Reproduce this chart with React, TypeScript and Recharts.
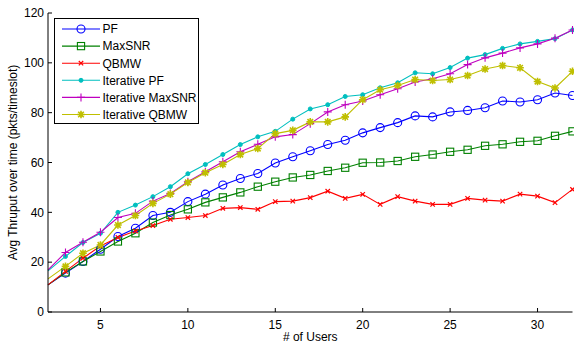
import React from 'react'
import { LineChart, Line, XAxis, YAxis, Legend } from 'recharts'

const users = [2, 3, 4, 5, 6, 7, 8, 9, 10, 11, 12, 13, 14, 15, 16, 17, 18, 19, 20, 21, 22, 23, 24, 25, 26, 27, 28, 29, 30, 31, 32]

const pf = [10.9, 15.6, 20.3, 25.2, 30.3, 33.6, 38.7, 40, 44.3, 47.3, 51, 53.6, 55.6, 59.8, 62.3, 64.7, 67.2, 68.9, 71.9, 74, 76, 78.7, 78.3, 80.3, 80.9, 82, 84.7, 84.3, 85.2, 87.9, 86.9]
const maxSnr = [10.9, 15.9, 20.3, 24.3, 28.3, 31.6, 35.9, 38.9, 41.2, 44, 46, 48, 50.3, 52.3, 54, 55, 56.6, 57.9, 59.9, 60, 60.6, 62.3, 63.2, 64.3, 65.1, 66.7, 67.3, 68.3, 68.7, 70.7, 72.5]
const qbmw = [10.9, 16.3, 21.6, 26.5, 29.9, 32.5, 34.7, 37.2, 37.9, 38.7, 41.6, 41.9, 41.2, 44.3, 44.5, 45.9, 48.5, 45.6, 47.2, 43.2, 46.3, 44.5, 43.2, 43.2, 45.6, 44.9, 44.5, 47.3, 46.5, 43.9, 49.2]
const iterPf = [16.5, 22.3, 27.9, 31.6, 40, 42.9, 46.3, 50.3, 55.5, 59.2, 63.2, 67.2, 70.3, 72.5, 77.4, 81.5, 83.2, 86.5, 87.2, 90, 92, 96, 95.6, 98.1, 101.9, 103.3, 105.8, 107.6, 108.6, 109.7, 113.2]
const iterMaxSnr = [16.9, 23.9, 28, 32, 37.9, 39.6, 44.5, 47.6, 52.3, 56.3, 60.3, 64.3, 67.3, 70.3, 71.2, 75.6, 80.3, 83.2, 84.7, 87.2, 89.6, 92.3, 93.6, 95.6, 99.3, 102, 103.9, 106, 107.6, 109.9, 113.2]
const iterQbmw = [13.3, 18.3, 23.6, 26.9, 34.9, 38.7, 43.6, 47.3, 52, 55.9, 59.2, 63.2, 65.6, 71.6, 72.9, 76.3, 76.3, 78.3, 85.2, 89.2, 90.9, 93.3, 92.9, 93.3, 94.9, 97.5, 98.9, 98, 92.5, 89.9, 96.6]

const xTicks = [5, 10, 15, 20, 25, 30]
const yTicks = [0, 20, 40, 60, 80, 100, 120]

const series = [
  { key: 'pf', name: 'PF', color: '#0000ff', marker: 'circle', values: pf },
  { key: 'maxSnr', name: 'MaxSNR', color: '#008000', marker: 'square', values: maxSnr },
  { key: 'qbmw', name: 'QBMW', color: '#ff0000', marker: 'x', values: qbmw },
  { key: 'iterPf', name: 'Iterative PF', color: '#00bfbf', marker: 'dot', values: iterPf },
  { key: 'iterMaxSnr', name: 'Iterative MaxSNR', color: '#bf00bf', marker: 'plus', values: iterMaxSnr },
  { key: 'iterQbmw', name: 'Iterative QBMW', color: '#bfbf00', marker: 'star', values: iterQbmw },
]

const rows = users.map((u, i) => {
  const row: any = { users: u }
  series.forEach(s => { row[s.key] = s.values[i] })
  return row
})

const font = '"Liberation Sans", Arial, sans-serif'

function Marker({ kind, cx, cy, color }: any) {
  switch (kind) {
    case 'circle':
      return <circle cx={cx} cy={cy} r={4} fill="none" stroke={color} strokeWidth={1.1} />
    case 'square':
      return <rect x={cx - 3.6} y={cy - 3.6} width={7.2} height={7.2} fill="none" stroke={color} strokeWidth={1.1} />
    case 'x':
      return <path d={`M${cx - 2.2},${cy - 2.2}L${cx + 2.2},${cy + 2.2}M${cx - 2.2},${cy + 2.2}L${cx + 2.2},${cy - 2.2}`} stroke={color} strokeWidth={1.2} />
    case 'dot':
      return <circle cx={cx} cy={cy} r={2} fill={color} stroke={color} />
    case 'plus':
      return <path d={`M${cx - 4},${cy}L${cx + 4},${cy}M${cx},${cy - 4}L${cx},${cy + 4}`} stroke={color} strokeWidth={1.1} />
    case 'star':
      return <path d={`M${cx - 3.8},${cy}L${cx + 3.8},${cy}M${cx},${cy - 3.8}L${cx},${cy + 3.8}M${cx - 2.8},${cy - 2.8}L${cx + 2.8},${cy + 2.8}M${cx - 2.8},${cy + 2.8}L${cx + 2.8},${cy - 2.8}`} stroke={color} strokeWidth={1.6} />
    default:
      return null
  }
}

function LegendBox() {
  return (
    <svg width={146} height={107} style={{ display: 'block' }}>
      <rect x={0.5} y={0.5} width={144} height={105} fill="#fff" stroke="#000" />
      {series.map((s, i) => {
        const y = 11 + i * 17.1
        return (
          <g key={s.key}>
            <line x1={8} x2={46} y1={y} y2={y} stroke={s.color} strokeWidth={1.1} />
            <Marker kind={s.marker} cx={27} cy={y} color={s.color} />
            <text x={48.5} y={y + 4.3} fontSize={12} fontFamily={font} fill="#000">{s.name}</text>
          </g>
        )
      })}
    </svg>
  )
}

export default function App() {
  return (
    <div style={{ position: 'absolute', left: 0, top: 0, background: '#fff' }}>
      <LineChart width={574} height={345} data={rows} margin={{ top: 13, right: 1.5, left: 0, bottom: 0 }}>
        <XAxis
          dataKey="users"
          type="number"
          domain={[2, 32]}
          ticks={xTicks}
          height={33}
          stroke="#000"
          tickSize={-4}
          tickMargin={12}
          tick={{ fill: '#000', fontSize: 12, fontFamily: font }}
          label={{ value: '# of Users', position: 'insideBottom', offset: 4, fill: '#000', fontSize: 12, fontFamily: font }}
        />
        <XAxis
          xAxisId="top"
          orientation="top"
          type="number"
          domain={[2, 32]}
          ticks={xTicks}
          height={0}
          stroke="#000"
          tickSize={-4}
          tickFormatter={() => ''}
          allowDataOverflow
        />
        <YAxis
          type="number"
          domain={[0, 120]}
          ticks={yTicks}
          width={48}
          stroke="#000"
          tickSize={-4}
          tickMargin={8}
          tick={{ fill: '#000', fontSize: 12, fontFamily: font }}
          label={{
            content: () => (
              <text x={17} y={162.5} transform="rotate(-90 17 162.5)" textAnchor="middle" fontSize={12} fontFamily={font} fill="#000">
                Avg Thruput over time (pkts/timeslot)
              </text>
            ),
          }}
        />
        <YAxis
          yAxisId="right"
          orientation="right"
          type="number"
          domain={[0, 120]}
          ticks={yTicks}
          width={0}
          stroke="#000"
          tickSize={-4}
          tickFormatter={() => ''}
          allowDataOverflow
        />
        {series.map(s => (
          <Line
            key={s.key}
            dataKey={s.key}
            name={s.name}
            type="linear"
            stroke={s.color}
            strokeWidth={1.1}
            isAnimationActive={false}
            dot={(p: any) =>
              p.index === 0 ? <g key={`${s.key}-${p.index}`} /> : (
                <g key={`${s.key}-${p.index}`}>
                  <Marker kind={s.marker} cx={p.cx} cy={p.cy} color={s.color} />
                </g>
              )
            }
          />
        ))}
        <Legend
          layout="vertical"
          align="center"
          verticalAlign="middle"
          content={() => <LegendBox />}
          wrapperStyle={{ left: 54, top: 18, width: 146, height: 107 }}
        />
      </LineChart>
    </div>
  )
}
